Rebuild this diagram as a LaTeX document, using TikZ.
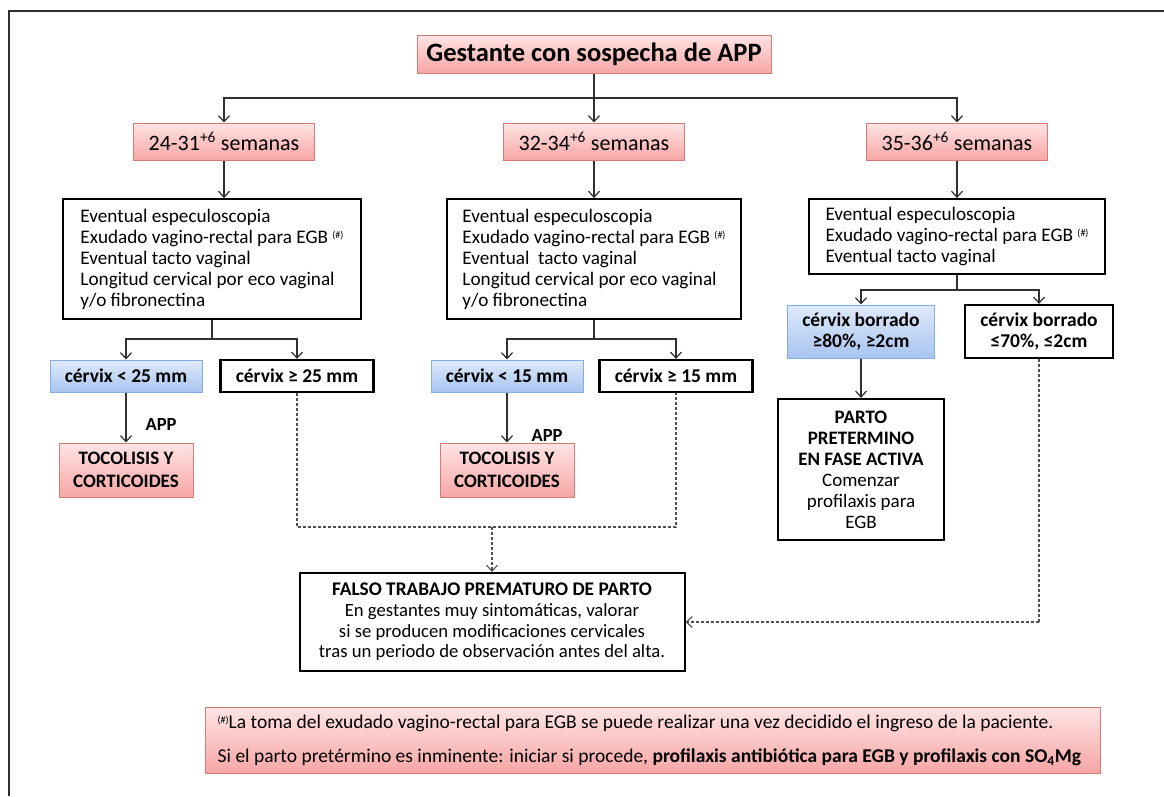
\documentclass[tikz,border=0pt]{standalone}
\usepackage{fontspec}
\setmainfont{Carlito}
\usetikzlibrary{arrows.meta}
\definecolor{pinktop}{HTML}{FFE4E4}
\definecolor{pinkbot}{HTML}{F6A6A5}
\definecolor{pinkline}{HTML}{D47A77}
\definecolor{bluetop}{HTML}{DFEAFB}
\definecolor{bluebot}{HTML}{A8C4F0}
\definecolor{blueline}{HTML}{86ABE0}
\definecolor{darkline}{HTML}{303030}
\definecolor{dashline}{HTML}{505050}
\newcommand{\refmark}{\raisebox{0.55ex}{\fontsize{10}{10}\selectfont(\#)}}
\tikzset{
  pinkbox/.style={draw=pinkline, top color=pinktop, bottom color=pinkbot, line width=1pt, align=center, inner sep=0pt},
  bluebox/.style={draw=blueline, top color=bluetop, bottom color=bluebot, line width=1pt, align=center, inner sep=0pt},
  whitebox/.style={draw=black, fill=white, line width=2.2pt, align=center, inner sep=0pt},
  textbox/.style={draw=black, fill=white, line width=1.8pt, align=left, inner sep=0pt},
  arr/.style={-{Straight Barb[length=6pt,width=11pt,line width=1.2pt]}, line width=1.3pt, draw=darkline},
  plainline/.style={line width=1.3pt, draw=darkline},
  dline/.style={dash pattern=on 3pt off 2pt, line width=1.2pt, draw=dashline},
  darr/.style={dline, -{Straight Barb[length=6pt,width=11pt,line width=1.1pt]}},
  bodyfont/.style={font=\fontsize{19.2}{21}\selectfont},
  boldfont/.style={font=\fontsize{19.5}{21.5}\selectfont\bfseries},
  weekfont/.style={font=\fontsize{22}{26}\selectfont},
  tocfont/.style={font=\fontsize{19}{23}\selectfont\bfseries},
}
\begin{document}
\begin{tikzpicture}[x=1pt,y=-1pt]
\useasboundingbox (0,0) rectangle (1164,796);
% outer frame
\draw[line width=2.2pt, draw=darkline] (9,796) -- (9,11) -- (1164,11);

% top
\node[pinkbox, minimum width=354pt, minimum height=38pt, font=\fontsize{26.5}{30}\selectfont\bfseries] (title) at (594,54) {Gestante con sospecha de APP};

% week boxes
\node[pinkbox, weekfont, minimum width=181pt, minimum height=37pt] (w1) at (224,141.5) {24-31\textsuperscript{+6} semanas};
\node[pinkbox, weekfont, minimum width=181pt, minimum height=37pt] (w2) at (594,141.5) {32-34\textsuperscript{+6} semanas};
\node[pinkbox, weekfont, minimum width=181pt, minimum height=37pt] (w3) at (957,141.5) {35-36\textsuperscript{+6} semanas};

% text boxes
\node[textbox, bodyfont, minimum width=298pt, minimum height=120pt] (t1) at (212,259) {Eventual especuloscopia\\Exudado vagino-rectal para EGB \refmark\\Eventual tacto vaginal\\Longitud cervical por eco vaginal\\y/o fibronectina};
\node[textbox, bodyfont, minimum width=294pt, minimum height=120pt] (t2) at (594,259) {Eventual especuloscopia\\Exudado vagino-rectal para EGB \refmark\\Eventual\ \ tacto vaginal\\Longitud cervical por eco vaginal\\y/o fibronectina};
\node[textbox, bodyfont, minimum width=296pt, minimum height=75pt] (t3) at (957,236.5) {Eventual especuloscopia\\Exudado vagino-rectal para EGB \refmark\\Eventual tacto vaginal};

% cervix boxes
\node[bluebox, boldfont, minimum width=152pt, minimum height=32pt] (c1) at (126,376) {cérvix < 25 mm};
\node[whitebox, boldfont, minimum width=153pt, minimum height=32pt] (c2) at (297,376) {cérvix ≥ 25 mm};
\node[bluebox, boldfont, minimum width=152pt, minimum height=32pt] (c3) at (507,376) {cérvix < 15 mm};
\node[whitebox, boldfont, minimum width=153pt, minimum height=32pt] (c4) at (676,376) {cérvix ≥ 15 mm};
\node[bluebox, boldfont, minimum width=147pt, minimum height=53pt] (b80) at (861,331.5) {cérvix borrado\\≥80\%, ≥2cm};
\node[whitebox, boldfont, minimum width=148pt, minimum height=53pt] (b70) at (1039,331.5) {cérvix borrado\\≤70\%, ≤2cm};

% tocolisis
\node[pinkbox, tocfont, minimum width=134pt, minimum height=54pt] (toc1) at (126,470) {TOCOLISIS Y\\CORTICOIDES};
\node[pinkbox, tocfont, minimum width=134pt, minimum height=54pt] (toc2) at (507,470) {TOCOLISIS Y\\CORTICOIDES};
\node[font=\fontsize{18.5}{20}\selectfont\bfseries] (app1) at (161,424) {APP};
\node[font=\fontsize{18.5}{20}\selectfont\bfseries] (app2) at (547,435) {APP};

% parto
\node[whitebox, font=\fontsize{19}{21}\selectfont, minimum width=166pt, minimum height=141pt] (parto) at (861,469.5) {\textbf{PARTO}\\\textbf{PRETERMINO}\\\textbf{EN FASE ACTIVA}\\Comenzar\\profilaxis para\\EGB};

% falso
\node[textbox, align=center, line width=2pt, font=\fontsize{18.7}{20.7}\selectfont, minimum width=385pt, minimum height=98pt] (falso) at (492,622) {{\fontsize{19.3}{20.7}\selectfont\textbf{FALSO TRABAJO PREMATURO DE PARTO}}\\En gestantes muy sintomáticas, valorar\\si se producen modificaciones cervicales\\tras un periodo de observación antes del alta.};

% footnote
\node[pinkbox, minimum width=895pt, minimum height=66pt] (foot) at (652.5,740) {};
\node[align=left, inner sep=0pt, anchor=west, xshift=13pt, font=\fontsize{19.5}{34}\selectfont] (foottext) at (foot.west) {\refmark La toma del exudado vagino-rectal para EGB se puede realizar una vez decidido el ingreso de la paciente.\\Si el parto pretérmino es inminente: iniciar si procede, \textbf{profilaxis antibiótica para EGB y profilaxis con SO\textsubscript{4}Mg}};

% connectors top
\coordinate (j0) at (594,98);
\draw[plainline] (title.south) -- (j0);
\draw[arr] (j0) -| (w1.north);
\draw[arr] (j0) -- (w2.north);
\draw[arr] (j0) -| (w3.north);
\draw[arr] (w1.south) -- (w1.south |- t1.north);
\draw[arr] (w2.south) -- (t2.north);
\draw[arr] (w3.south) -- (t3.north);

% branch 1
\coordinate (j1) at (212,339);
\draw[plainline] (t1.south) -- (j1);
\draw[arr] (j1) -| (c1.north);
\draw[arr] (j1) -| (c2.north);
\draw[arr] (c1.south) -- (toc1.north);

% branch 2
\coordinate (j2) at (594,339);
\draw[plainline] (t2.south) -- (j2);
\draw[arr] (j2) -| (c3.north);
\draw[arr] (j2) -| (c4.north);
\draw[arr] (c3.south) -- (toc2.north);

% branch 3
\coordinate (j3) at (957,290);
\draw[plainline] (t3.south) -- (j3);
\draw[arr] (j3) -| (b80.north);
\draw[arr] (j3) -| (b70.north);
\draw[arr] (b80.south) -- (parto.north);

% dashed connectors
\coordinate (d1) at (297,527);
\coordinate (d2) at (676,527);
\coordinate (dm) at (492,527);
\draw[dline] (c2.south) -- (d1) -- (d2) -- (c4.south);
\draw[darr] (dm) -- (falso.north);
\coordinate (d3) at (1039,622);
\draw[dline] (b70.south) -- (d3);
\draw[darr] (d3) -- (falso.east);
\end{tikzpicture}
\end{document}
